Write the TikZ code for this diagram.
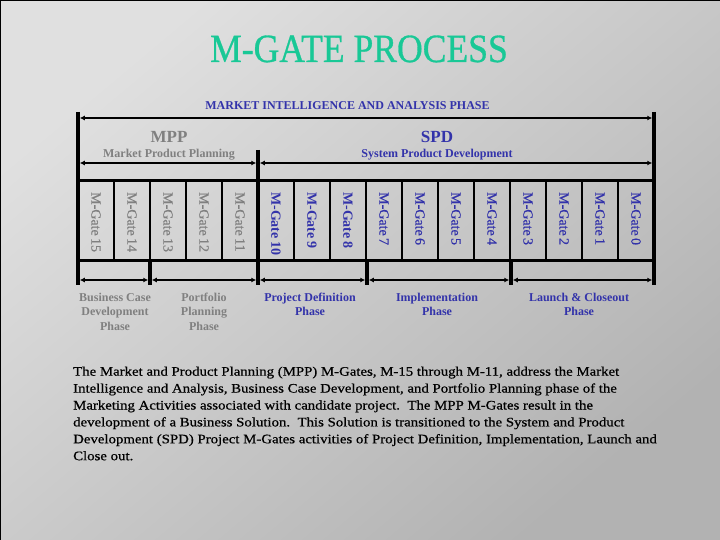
\documentclass[tikz,border=0pt]{standalone}
\usepackage{fontspec}
\usepackage{graphicx}
\setmainfont{Liberation Serif}
\newfontfamily\titlefont[FakeBold=0.8]{Liberation Serif}
\newfontfamily\heavyfont[FakeBold=0.6]{Liberation Serif}
\usetikzlibrary{arrows.meta}
\definecolor{teal1}{RGB}{25,200,150}
\definecolor{navy1}{RGB}{51,51,170}
\definecolor{gray1}{RGB}{128,128,128}
\definecolor{bgA}{RGB}{224,224,224}
\definecolor{bgB}{RGB}{178,178,178}
\begin{document}
\begin{tikzpicture}[x=1pt,y=-1pt,
  bar/.style={line width=3.5pt},
  frameline/.style={line width=3pt},
  cellline/.style={line width=2pt},
  span/.style={line width=2.5pt,{Latex[length=5pt,width=5pt]}-{Latex[length=5pt,width=5pt]},shorten <=1.75pt,shorten >=1.75pt},
  gate/.style={rotate=-90,anchor=west,inner sep=0pt,font=\heavyfont\fontsize{14}{16}\selectfont},
  phase/.style={anchor=north,inner sep=0pt,align=center,font=\fontsize{12}{14.5}\selectfont\bfseries},
  head/.style={anchor=base,inner sep=0pt,font=\fontsize{17}{20}\selectfont\bfseries},
  sub/.style={anchor=base,inner sep=0pt,font=\fontsize{12}{14}\selectfont\bfseries}
]
\shade[top color=bgA,bottom color=bgB,shading angle=40] (0,0) rectangle (720,540);
\useasboundingbox (0,0) rectangle (720,540);
\draw[line width=1.5pt] (0,540) -- (0,0) -- (720,0);

% title
\node[anchor=base,inner sep=0pt,text=teal1,font=\titlefont\fontsize{40}{44}\selectfont] (title) at (359,62) {\scalebox{0.89}[1]{M-GATE PROCESS}};
\node[anchor=base,inner sep=0pt,text=navy1,font=\fontsize{12}{14}\selectfont\bfseries] (mia) at (347.5,109.5) {MARKET INTELLIGENCE AND ANALYSIS PHASE};

% coordinates
\coordinate (Ltop) at (78,112);  \coordinate (Lbot) at (78,285);
\coordinate (Rtop) at (654,112); \coordinate (Rbot) at (654,285);
\coordinate (Mtop) at (258,150); \coordinate (Mbot) at (258,285);
\coordinate (Atop) at (150,260); \coordinate (Abot) at (150,285);
\coordinate (Btop) at (367,260); \coordinate (Bbot) at (367,285);
\coordinate (Ctop) at (511,260); \coordinate (Cbot) at (511,285);

% bars
\draw[bar] (Ltop) -- (Lbot);
\draw[bar] (Rtop) -- (Rbot);
\draw[bar] (Mtop) -- (Mbot);
\draw[bar] (Atop) -- (Abot);
\draw[bar] (Btop) -- (Bbot);
\draw[bar] (Ctop) -- (Cbot);

% box
\coordinate (boxTL) at (78,181); \coordinate (boxTR) at (654,181);
\coordinate (boxBL) at (78,260); \coordinate (boxBR) at (654,260);
\draw[frameline] (boxTL) -- (boxTR);
\draw[frameline] (boxBL) -- (boxBR);
\foreach \k in {1,2,3,4,6,7,8,9,10,11,12,13,14,15} {
  \coordinate (c\k t) at ({78+36*\k},181);
  \coordinate (c\k b) at ({78+36*\k},260);
  \draw[cellline] (c\k t) -- (c\k b);
}

% span arrows
\coordinate (t1) at (78,118);  \coordinate (t2) at (654,118);
\coordinate (m1) at (78,163);  \coordinate (m2) at (258,163); \coordinate (m3) at (654,163);
\coordinate (b1) at (78,280);  \coordinate (b2) at (150,280); \coordinate (b3) at (258,280);
\coordinate (b4) at (367,280); \coordinate (b5) at (511,280); \coordinate (b6) at (654,280);
\draw[span] (t1) -- (t2);
\draw[span] (m1) -- (m2);
\draw[span] (m2) -- (m3);
\draw[span] (b1) -- (b2);
\draw[span] (b2) -- (b3);
\draw[span] (b3) -- (b4);
\draw[span] (b4) -- (b5);
\draw[span] (b5) -- (b6);

% headings
\node[head,text=gray1] (mpp) at (169,143) {MPP};
\node[sub,text=gray1] (mppsub) at (169,158) {Market Product Planning};
\node[head,text=navy1] (spd) at (437,143) {SPD};
\node[sub,text=navy1] (spdsub) at (437,158) {System Product Development};

% gates
\foreach \k in {0,...,4} {
  \pgfmathtruncatemacro{\g}{15-\k}
  \node[gate,text=gray1] (g\g) at ({96+36*\k},192) {M-Gate\,\g};
}
\foreach \k in {5,6,7} {
  \pgfmathtruncatemacro{\g}{15-\k}
  \node[gate,text=navy1,font=\fontsize{14}{16}\selectfont\bfseries] (g\g) at ({96+36*\k},192) {M-Gate\,\g};
}
\foreach \k in {8,...,15} {
  \pgfmathtruncatemacro{\g}{15-\k}
  \node[gate,text=navy1] (g\g) at ({96+36*\k},192) {M-Gate\,\g};
}

% phases
\node[phase,text=gray1] (p1) at (115,292.5) {Business Case\\Development\\Phase};
\node[phase,text=gray1] (p2) at (204,292.5) {Portfolio\\Planning\\Phase};
\node[phase,text=navy1] (p3) at (310,292.5) {Project Definition\\Phase};
\node[phase,text=navy1] (p4) at (437,292.5) {Implementation\\Phase};
\node[phase,text=navy1] (p5) at (579,292.5) {Launch \& Closeout\\Phase};

% body
\node[anchor=base west,inner sep=0pt,font=\heavyfont\fontsize{13}{16.9}\selectfont] (body) at (73,375.7) {\scalebox{1.14}[1]{\parbox[t]{540pt}{\raggedright The Market and Product Planning (MPP) M-Gates, M-15 through M-11, address the Market\\
Intelligence and Analysis, Business Case Development, and Portfolio Planning phase of the\\
Marketing Activities associated with candidate project.\ \ The MPP M-Gates result in the\\
development of a Business Solution.\ \ This Solution is transitioned to the System and Product\\
Development (SPD) Project M-Gates activities of Project Definition, Implementation, Launch and\\
Close out.}}};
\end{tikzpicture}
\end{document}
